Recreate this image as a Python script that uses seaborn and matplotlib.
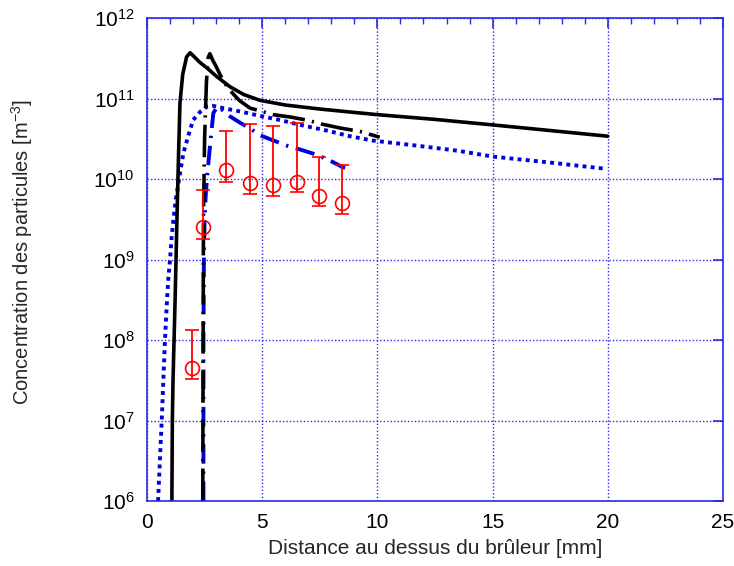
import numpy as np
import pandas as pd
import matplotlib
matplotlib.use("Agg")
import matplotlib.pyplot as plt
import matplotlib.ticker as mticker
import seaborn as sns

# ---- data ----
x_solid = [1.08, 1.10, 1.13, 1.22, 1.30, 1.36, 1.43, 1.55, 1.72, 1.87, 2.05, 2.3, 2.6, 3.0, 3.6,
           4.2, 4.9, 6.0, 7.5, 8.8, 10.0, 12.5, 15.0, 17.5, 20.0]
y_solid = [1e6, 1e7, 3.2e7, 3.2e8, 3.2e9, 1.6e10, 8.7e10, 2.0e11, 3.3e11, 3.7e11, 3.3e11, 2.8e11,
           2.4e11, 1.9e11, 1.4e11, 1.12e11, 9.5e10, 8.3e10, 7.4e10, 6.8e10, 6.3e10, 5.5e10,
           4.7e10, 4.0e10, 3.4e10]

x_bdd = [2.42, 2.45, 2.50, 2.58, 2.65, 2.73, 2.85, 3.0, 3.3, 3.6, 4.0, 4.47, 5.0, 5.47, 6.2,
         6.93, 7.6, 8.38, 9.24, 10.1]
y_bdd = [1e6, 3.2e9, 3.2e10, 1.6e11, 3.2e11, 3.6e11, 3.0e11, 2.5e11, 1.66e11, 1.26e11, 9.5e10,
         7.6e10, 6.9e10, 6.3e10, 5.9e10, 5.4e10, 4.8e10, 4.3e10, 3.9e10, 3.3e10]

x_dot = [0.48, 0.56, 0.64, 0.71, 0.78, 0.85, 0.92, 1.0, 1.07, 1.15, 1.25, 1.45, 1.58, 1.8, 2.0,
         2.3, 2.59, 2.87, 3.3, 4.04, 5.0, 5.77, 6.8, 7.8, 8.8, 9.8, 11.7, 13.5, 15.0, 17.5, 19.8]
y_dot = [1e6, 3.2e6, 1e7, 3.2e7, 1e8, 2.5e8, 5.6e8, 1e9, 1.9e9, 3.2e9, 5.6e9, 1.26e10, 2.1e10,
         3.5e10, 5.4e10, 6.8e10, 7.9e10, 8.1e10, 7.6e10, 6.9e10, 6.0e10, 5.4e10, 4.6e10, 4.0e10,
         3.4e10, 3.0e10, 2.6e10, 2.24e10, 1.9e10, 1.6e10, 1.35e10]

x_bld = [2.45, 2.45, 2.47, 2.50, 2.55, 2.60, 2.73, 2.88, 3.05, 3.3, 3.6, 4.04, 4.5, 4.9, 5.5,
         6.06, 6.7, 7.37, 8.0, 8.5, 8.6]
y_bld = [1e6, 1e8, 1e9, 3.2e9, 6.3e9, 1e10, 2.5e10, 6.6e10, 7.9e10, 7.1e10, 6.0e10, 5.0e10,
         4.2e10, 3.5e10, 3.0e10, 2.6e10, 2.3e10, 2.0e10, 1.66e10, 1.4e10, 1.38e10]

x_exp = [1.94, 2.45, 3.43, 4.47, 5.45, 6.5, 7.48, 8.45]
y_exp = [4.5e7, 2.5e9, 1.3e10, 9.0e9, 8.5e9, 9.1e9, 6.2e9, 5.0e9]
y_exp_hi = [1.35e8, 7.4e9, 3.9e10, 4.8e10, 4.6e10, 4.9e10, 1.9e10, 1.5e10]
y_exp_lo = [3.3e7, 1.8e9, 9.3e9, 6.5e9, 6.2e9, 6.8e9, 4.6e9, 3.7e9]

x_ticks = [0, 5, 10, 15, 20, 25]
y_ticks = [1e6, 1e7, 1e8, 1e9, 1e10, 1e11, 1e12]

# ---- style ----
sns.set_style("white")
plt.rcParams['font.family'] = ['Liberation Sans', 'DejaVu Sans']
plt.rcParams['mathtext.default'] = 'regular'

BLUE = '#2a2ae6'
fig = plt.figure(figsize=(7.34, 5.66), dpi=100)
ax = fig.add_axes([147/734, 1 - 501/566, (723-147)/734, (501-18)/566])

def draw(x, y, **kw):
    df = pd.DataFrame({'x': x, 'y': y})
    sns.lineplot(data=df, x='x', y='y', sort=False, estimator=None, ax=ax, **kw)

draw(x_dot, y_dot, color='#0000dd', lw=2.8, dashes=(1, 1.1))
draw(x_bld, y_bld, color='#0000dd', lw=2.8, dashes=(5, 2, 0.6, 2))
draw(x_bdd, y_bdd, color='black', lw=2.6, dashes=(9, 2, 0.6, 2))
draw(x_solid, y_solid, color='black', lw=2.6)

yerr = [np.array(y_exp) - np.array(y_exp_lo), np.array(y_exp_hi) - np.array(y_exp)]
ax.errorbar(x_exp, y_exp, yerr=yerr, fmt='o', mfc='none', mec='red', ecolor='red',
            ms=10, mew=1.2, elinewidth=1.3, capsize=5, capthick=1.3, zorder=5)

ax.set_yscale('log')
ax.set_xlim(0, 25)
ax.set_ylim(1e6, 1e12)
ax.set_xticks(x_ticks)
ax.set_yticks(y_ticks)
ax.xaxis.set_minor_locator(mticker.MultipleLocator(1))
ax.yaxis.set_minor_locator(mticker.NullLocator())
ax.xaxis.set_major_formatter(mticker.FormatStrFormatter('%d'))

ax.grid(True, which='major', color=BLUE, linestyle=(0, (1, 1.5)), lw=1.0)
for s in ax.spines.values():
    s.set_color(BLUE)
    s.set_linewidth(1.2)
ax.tick_params(which='both', direction='in', top=True, right=True, color=BLUE,
               labelsize=15, labelcolor='black')
ax.tick_params(which='major', length=7, width=1.2, pad=9)
ax.tick_params(which='minor', length=4, width=1.0)

ax.set_xlabel('Distance au dessus du brûleur [mm]', fontsize=15, labelpad=5)
ax.set_ylabel('Concentration des particules [m$^{-3}$]', fontsize=14.5)
ax.yaxis.set_label_coords(-0.194, 0.515)

fig.savefig('out.png', dpi=100)
